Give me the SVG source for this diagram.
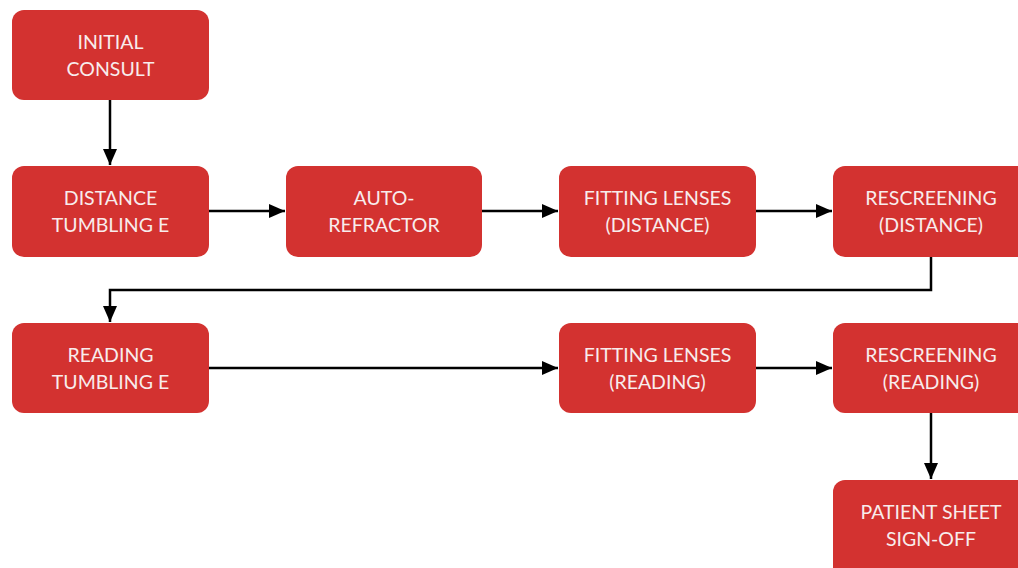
<svg xmlns="http://www.w3.org/2000/svg" width="1018" height="568" viewBox="0 0 1018 568">
<defs>
<style>
.box{fill:#d33230;}
.lbl{font-family:Lato,"Open Sans","Liberation Sans",sans-serif;font-size:19.5px;fill:#f8ecec;text-anchor:middle;}
.edge{fill:none;stroke:#000;stroke-width:2.5;}
</style>
<marker id="arr" markerWidth="16" markerHeight="14" refX="16" refY="7" orient="auto" markerUnits="userSpaceOnUse">
<path d="M0,0 L16,7 L0,14 Z" fill="#000"/>
</marker>
</defs>
<rect width="1018" height="568" fill="#fff"/>
<g id="connectors">
<path class="edge" d="M110,100 V165" marker-end="url(#arr)"/>
<path class="edge" d="M209,211 H285" marker-end="url(#arr)"/>
<path class="edge" d="M482,211 H558" marker-end="url(#arr)"/>
<path class="edge" d="M756,211 H832" marker-end="url(#arr)"/>
<path class="edge" d="M931,257 V290 H110 V322" marker-end="url(#arr)"/>
<path class="edge" d="M209,368 H558" marker-end="url(#arr)"/>
<path class="edge" d="M756,368 H832" marker-end="url(#arr)"/>
<path class="edge" d="M931,413 V479" marker-end="url(#arr)"/>
</g>
<g id="initial-consult"><rect class="box" x="12" y="10" width="197" height="90" rx="12"/><text class="lbl" x="110.5" y="49">INITIAL</text><text class="lbl" x="110.5" y="76">CONSULT</text></g>
<g id="distance-tumbling-e"><rect class="box" x="12" y="166" width="197" height="91" rx="12"/><text class="lbl" x="110.5" y="205">DISTANCE</text><text class="lbl" x="110.5" y="232">TUMBLING E</text></g>
<g id="auto-refractor"><rect class="box" x="286" y="166" width="196" height="91" rx="12"/><text class="lbl" x="384" y="205">AUTO-</text><text class="lbl" x="384" y="232">REFRACTOR</text></g>
<g id="fitting-distance"><rect class="box" x="559" y="166" width="197" height="91" rx="12"/><text class="lbl" x="657.5" y="205">FITTING LENSES</text><text class="lbl" x="657.5" y="232">(DISTANCE)</text></g>
<g id="rescreening-distance"><rect class="box" x="833" y="166" width="197" height="91" rx="12"/><text class="lbl" x="931" y="205">RESCREENING</text><text class="lbl" x="931" y="232">(DISTANCE)</text></g>
<g id="reading-tumbling-e"><rect class="box" x="12" y="323" width="197" height="90" rx="12"/><text class="lbl" x="110.5" y="362">READING</text><text class="lbl" x="110.5" y="389">TUMBLING E</text></g>
<g id="fitting-reading"><rect class="box" x="559" y="323" width="197" height="90" rx="12"/><text class="lbl" x="657.5" y="362">FITTING LENSES</text><text class="lbl" x="657.5" y="389">(READING)</text></g>
<g id="rescreening-reading"><rect class="box" x="833" y="323" width="197" height="90" rx="12"/><text class="lbl" x="931" y="362">RESCREENING</text><text class="lbl" x="931" y="389">(READING)</text></g>
<g id="patient-sheet"><rect class="box" x="833" y="480" width="197" height="100" rx="12"/><text class="lbl" x="931" y="519">PATIENT SHEET</text><text class="lbl" x="931" y="546">SIGN-OFF</text></g>
</svg>
